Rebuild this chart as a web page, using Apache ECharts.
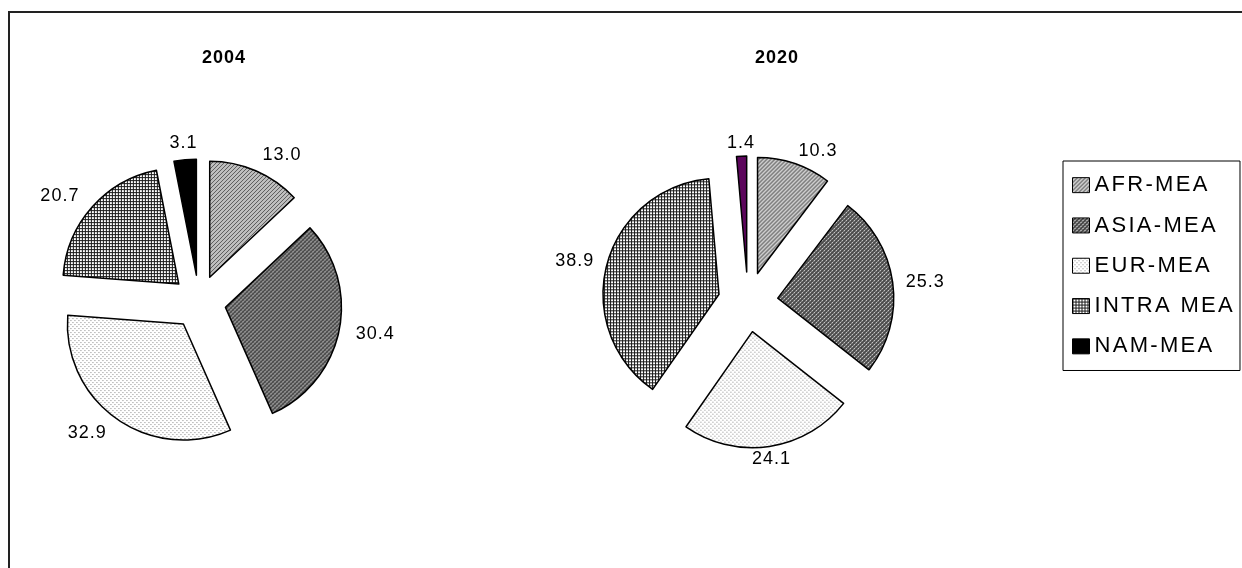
<!DOCTYPE html>
<html>
<head>
<meta charset="utf-8">
<script src="https://cdn.jsdelivr.net/npm/echarts@6/dist/echarts.min.js"></script>
<style>
html,body{margin:0;padding:0;background:#fff;}
#chart{width:1242px;height:568px;}
</style>
</head>
<body>
<div id="chart"></div>
<script>
// ---- data ----
const categories = ['AFR-MEA', 'ASIA-MEA', 'EUR-MEA', 'INTRA MEA', 'NAM-MEA'];
const years = ['2004', '2020'];
const values2004 = [13.0, 30.4, 32.9, 20.7, 3.1];
const values2020 = [10.3, 25.3, 24.1, 38.9, 1.4];

// ---- letter spacing for canvas text (Excel-like wide text) ----
(function () {
  const P = CanvasRenderingContext2D.prototype;
  if (!('letterSpacing' in P)) return;
  function spacing(ctx) {
    const m = /(\d+(?:\.\d+)?)px/.exec(ctx.font || '');
    const size = m ? parseFloat(m[1]) : 12;
    ctx.letterSpacing = size >= 20 ? '2.3px' : '1px';
  }
  const f = P.fillText, mt = P.measureText;
  P.fillText = function () { spacing(this); return f.apply(this, arguments); };
  P.measureText = function () { spacing(this); return mt.apply(this, arguments); };
})();

// ---- fill patterns ----
function makePattern(size, fn) {
  const c = document.createElement('canvas');
  c.width = size; c.height = size;
  const ctx = c.getContext('2d');
  for (let y = 0; y < size; y++) {
    for (let x = 0; x < size; x++) {
      ctx.fillStyle = fn(x, y);
      ctx.fillRect(x, y, 1, 1);
    }
  }
  return { image: c, repeat: 'repeat' };
}
const patAFR = makePattern(4, (x, y) => {
  const k = (x + y) % 4;
  return k === 0 ? '#000000' : (k === 2 ? '#9a9a9a' : '#ffffff');
});
const patASIA = makePattern(4, (x, y) => {
  if ((x === 0 && y === 0) || (x === 2 && y === 2)) return '#ffffff';
  if ((x === 1 && y === 3) || (x === 3 && y === 1)) return '#a0a0a0';
  return '#4a4a4a';
});
const patEUR = makePattern(4, (x, y) => {
  if ((x === 0 && y === 0) || (x === 2 && y === 2)) return '#8a8a8a';
  return '#ffffff';
});
const patINTRA = makePattern(3, (x, y) => (x === 0 || y === 0) ? '#1a1a1a' : '#ffffff');
const fills2004 = [patAFR, patASIA, patEUR, patINTRA, '#000000'];
const fills2020 = [patAFR, patASIA, patEUR, patINTRA, '#5c065c'];

function pieData(values, fills) {
  return categories.map((n, i) => ({
    name: n,
    value: values[i],
    selected: true,
    itemStyle: { color: fills[i] }
  }));
}

function midAngle(values, i) {
  const total = values.reduce((a, b) => a + b, 0);
  let cum = 0;
  for (let k = 0; k < i; k++) cum += values[k];
  return (cum + values[i] / 2) / total * 2 * Math.PI;
}

const FONT = 'Liberation Sans, Arial, sans-serif';

function pieSeries(name, values, fills, center, offset, len) {
  const itemStyle = { borderColor: '#000', borderWidth: 1.5 };
  return {
    type: 'pie',
    name: name,
    center: center,
    radius: 116,
    startAngle: 90,
    clockwise: true,
    selectedMode: 'multiple',
    selectedOffset: offset,
    avoidLabelOverlap: false,
    animation: false,
    itemStyle: itemStyle,
    select: { itemStyle: itemStyle },
    emphasis: { disabled: true },
    label: {
      show: true,
      position: 'outside',
      alignTo: 'none',
      distanceToLabelLine: 0,
      color: '#000',
      fontFamily: FONT,
      fontSize: 18,
      formatter: p => p.value.toFixed(1)
    },
    labelLine: { show: false, length: len, length2: 0 },
    labelLayout: function (params) {
      const a = midAngle(values, params.dataIndex);
      return Math.abs(Math.sin(a)) < 0.2 ? { align: 'center' } : {};
    },
    data: pieData(values, fills)
  };
}

const chart = echarts.init(document.getElementById('chart'), null, { renderer: 'canvas' });
chart.setOption({
  backgroundColor: '#ffffff',
  animation: false,
  title: [
    { text: years[0], left: 202, top: 49, padding: 0,
      textStyle: { fontFamily: FONT, fontSize: 18, fontWeight: 'bold', color: '#000' } },
    { text: years[1], left: 755, top: 49, padding: 0,
      textStyle: { fontFamily: FONT, fontSize: 18, fontWeight: 'bold', color: '#000' } }
  ],
  legend: {
    data: categories,
    orient: 'vertical',
    left: 1063,
    top: 161,
    padding: [12, 5, 12, 9],
    itemGap: 16,
    itemWidth: 17,
    itemHeight: 15,
    icon: 'rect',
    selectedMode: false,
    borderColor: '#000',
    borderWidth: 1,
    itemStyle: { borderColor: '#000', borderWidth: 1 },
    textStyle: { fontFamily: FONT, fontSize: 22, color: '#000', lineHeight: 22 }
  },
  graphic: [
    { type: 'rect', silent: true, shape: { x: 9, y: 12, width: 1400, height: 800 },
      style: { fill: 'none', stroke: '#222', lineWidth: 2 } }
  ],
  series: [
    pieSeries(years[0], values2004, fills2004, [199, 302], 27, 17),
    pieSeries(years[1], values2020, fills2020, [748, 302], 30, 13)
  ]
});
</script>
</body>
</html>
